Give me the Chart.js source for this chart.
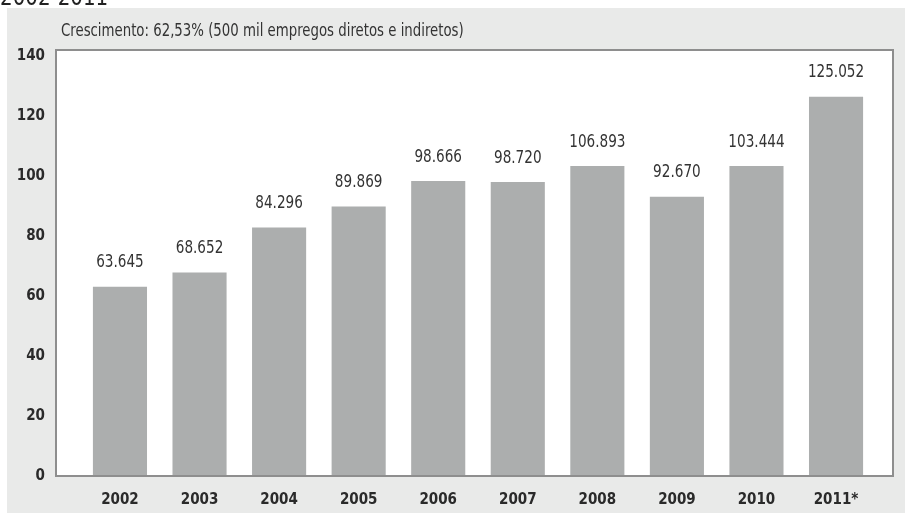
<!DOCTYPE html>
<html>
<head>
<meta charset="utf-8">
<script src="https://cdn.jsdelivr.net/npm/chart.js@4/dist/chart.umd.min.js"></script>
<style>
  html, body { margin: 0; padding: 0; background: #fff; }
  #wrap { width: 905px; height: 513px; }
</style>
</head>
<body>
<div id="wrap"><canvas id="chart" width="905" height="513"></canvas></div>
<script>
var years = ['2002', '2003', '2004', '2005', '2006', '2007', '2008', '2009', '2010', '2011*'];
// bar heights as drawn in the picture
var barValues = [63.1, 67.8, 82.8, 89.8, 98.3, 98.0, 103.3, 93.1, 103.3, 126.4];
// printed labels above the bars
var valueLabels = ['63.645', '68.652', '84.296', '89.869', '98.666', '98.720', '106.893', '92.670', '103.444', '125.052'];
var yTicks = [0, 20, 40, 60, 80, 100, 120, 140];

var FONT = "'Liberation Sans Narrow', 'DejaVu Sans Condensed', sans-serif";

// narrow text drawn by hand (squeezed horizontally to match the condensed face)
function squeezed(ctx, text, x, y, sx) {
    ctx.save();
    ctx.translate(x, y);
    ctx.scale(sx, 1);
    ctx.fillText(text, 0, 0);
    ctx.restore();
}

var frame = {
    id: 'frame',
    beforeDraw: function(chart) {
        var ctx = chart.ctx;
        ctx.save();
        ctx.fillStyle = '#e9eae9';
        ctx.fillRect(7, 8, 898, 505);
        ctx.fillStyle = '#222';
        ctx.font = '24px ' + FONT;
        ctx.textBaseline = 'alphabetic';
        squeezed(ctx, '2002-2011', 0, 5, 0.92);
        ctx.font = '17px ' + FONT;
        ctx.fillStyle = '#333';
        ctx.textBaseline = 'middle';
        squeezed(ctx, 'Crescimento: 62,53% (500 mil empregos diretos e indiretos)', 61, 32, 0.87);
        ctx.restore();
    },
    beforeDatasetsDraw: function(chart) {
        var a = chart.chartArea, ctx = chart.ctx;
        ctx.save();
        ctx.fillStyle = '#fff';
        ctx.fillRect(a.left, a.top, a.right - a.left, a.bottom - a.top);
        ctx.restore();
    },
    afterDatasetsDraw: function(chart) {
        var a = chart.chartArea, ctx = chart.ctx;
        ctx.save();
        ctx.strokeStyle = '#8e8e8e';
        ctx.lineWidth = 2;
        ctx.strokeRect(a.left, a.top, a.right - a.left, a.bottom - a.top);
        ctx.fillStyle = '#333';
        ctx.font = '18px ' + FONT;
        ctx.textAlign = 'center';
        ctx.textBaseline = 'middle';
        chart.getDatasetMeta(0).data.forEach(function(bar, i) {
            squeezed(ctx, valueLabels[i], bar.x, bar.y - 24, 0.84);
        });
        ctx.restore();
    }
};

new Chart(document.getElementById('chart'), {
    type: 'bar',
    data: {
        datasets: [{
            data: barValues.map(function(v, i) { return { x: i, y: v }; }),
            backgroundColor: '#acaeae',
            borderWidth: 0,
            categoryPercentage: 1,
            barPercentage: 0.68
        }]
    },
    options: {
        responsive: false,
        animation: false,
        layout: { padding: { top: 50, right: 12, left: 0, bottom: 0 } },
        plugins: { legend: { display: false }, tooltip: { enabled: false } },
        scales: {
            x: {
                type: 'linear',
                min: -0.804,
                max: 9.716,
                offset: false,
                grid: { display: false },
                border: { display: false },
                afterBuildTicks: function(axis) {
                    axis.ticks = years.map(function(_, i) { return { value: i }; });
                },
                afterFit: function(axis) { axis.height = 37; },
                ticks: {
                    autoSkip: false,
                    maxRotation: 0,
                    padding: 7,
                    color: '#2a2a2a',
                    font: { family: FONT, size: 15, weight: 'bold' },
                    callback: function(v) { return years[v]; }
                }
            },
            y: {
                min: 0,
                max: 142,
                grid: { display: false },
                border: { display: false },
                afterBuildTicks: function(axis) {
                    axis.ticks = yTicks.map(function(v) { return { value: v }; });
                },
                afterFit: function(axis) { axis.width = 56; },
                ticks: {
                    padding: 3,
                    color: '#2a2a2a',
                    font: { family: FONT, size: 15, weight: 'bold' }
                }
            }
        }
    },
    plugins: [frame]
});
</script>
</body>
</html>
